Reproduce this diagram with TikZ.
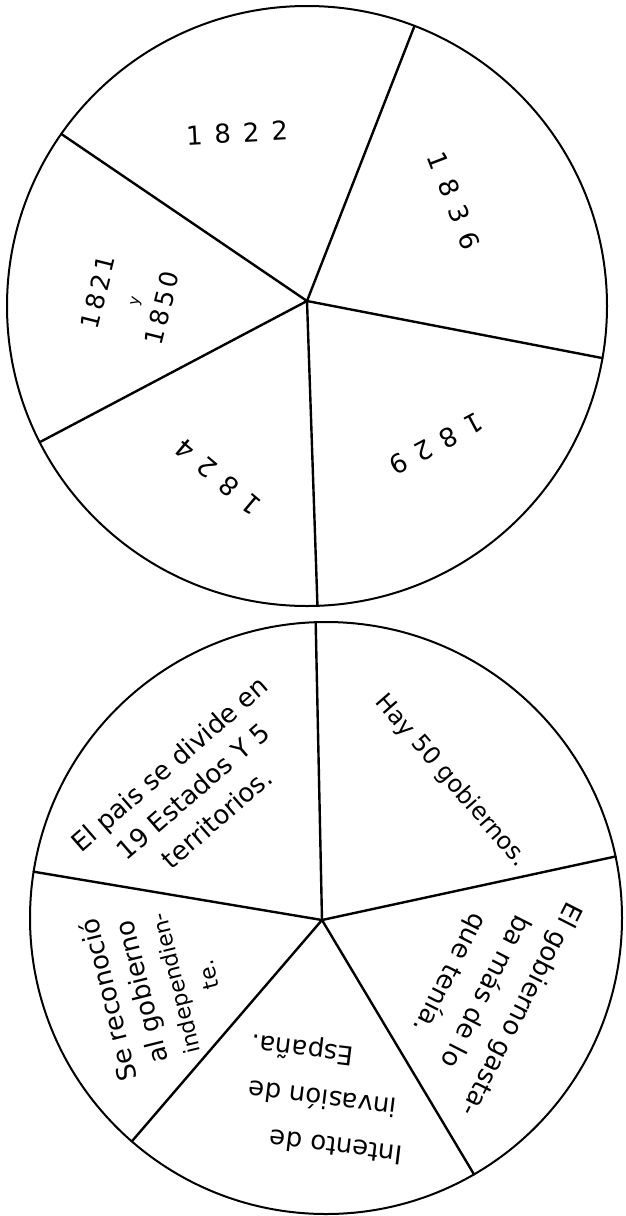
\documentclass[tikz,border=0pt]{standalone}
\usepackage{fontspec}
\setmainfont{DejaVu Sans}
\newfontfamily\handfont{DejaVu Sans}
\newfontfamily\yearfont[LetterSpace=46]{DejaVu Sans}
\newfontfamily\yearfontb[LetterSpace=14]{DejaVu Sans}
\usetikzlibrary{calc}
\begin{document}
\begin{tikzpicture}[x=1pt,y=-1pt]
\tikzset{
  disc/.style={circle, draw, line width=2pt, minimum size=#1, inner sep=0pt, outer sep=0pt},
  spoke/.style={line width=2.4pt, line cap=round},
  year/.style={font=\yearfont\fontsize{26}{33}\selectfont, inner sep=0pt},
  yearb/.style={font=\yearfontb\fontsize{25}{33}\selectfont, inner sep=0pt, align=center},
  note/.style={font=\handfont\fontsize{26}{#1}\selectfont, align=center, inner sep=0pt},
}
\fill[white] (0,0) rectangle (625,1216);
\useasboundingbox (0,0) rectangle (625,1216);

% ---------- top wheel ----------
\node[disc=600pt] (topdisc) at (307,306) {};
\coordinate (tophub) at (307,301);
\foreach \a/\n in {69.9/ta, 145.9/tb, 207.4/tc, 272.9/td, 350.3/te}{
  \coordinate (\n) at (topdisc.\a);
  \draw[spoke] (tophub) -- (\n);
}
\node[year, rotate=3]   (y1822) at (237,133) {1822};
\node[year, rotate=-69] (y1836) at (454,201) {1836};
\node[year, rotate=208] (y1829) at (436,444) {1829};
\node[year, rotate=140] (y1824) at (218,477) {1824};
\node[yearb, rotate=76] (y1821) at (130,300) {1821\\{\fontsize{15}{15}\selectfont y}\\1850};

% ---------- bottom wheel ----------
\node[disc=592pt] (botdisc) at (326,918) {};
\coordinate (bothub) at (322,920);
\foreach \a/\n in {12.7/ba, 92.5/bb, 171.7/bc, 229.7/bd, 300.6/be}{
  \coordinate (\n) at (botdisc.\a);
  \draw[spoke] (bothub) -- (\n);
}
\node[note=36, rotate=41]   (pais)  at (193,791) {El pais se divide en\\19 Estados Y 5\\territorios.};
\node[note=35, rotate=-49, font=\handfont\fontsize{24}{30}\selectfont] (hay) at (451,781) {Hay 50 gobiernos.};
\node[note=40, rotate=-117] (gasta) at (485,991) {El gobierno gasta-\\ba más de lo\\que tenía.};
\node[note=46, rotate=173]  (inv)   at (323,1097) {Intento de\hspace*{38pt}\\invasión de\\\hspace*{52pt}España.};
\node[note=34, rotate=104]  (reco)  at (157,988) {Se reconoció\\al gobierno\\{\fontsize{22}{34}\selectfont independien-}\\{\fontsize{22}{34}\selectfont te.}};
\end{tikzpicture}
\end{document}
